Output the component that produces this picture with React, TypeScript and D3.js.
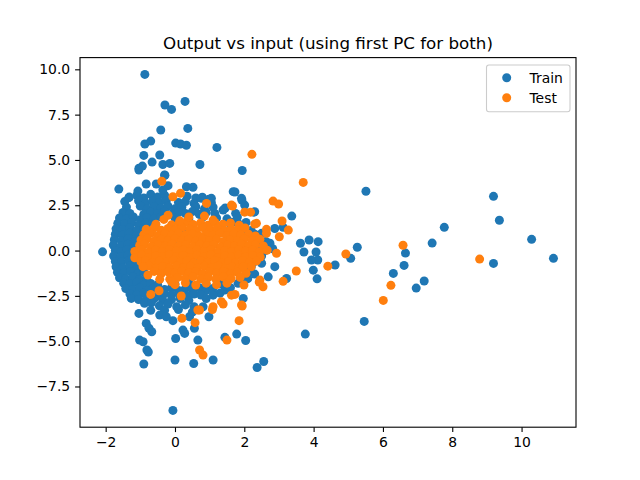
import { useEffect, useRef } from 'react';
import * as d3 from 'd3';

type Pt = [number, number];

// training points outside the dense core
const trainOutliers: Pt[] = [
  [-0.87, 9.72], [-0.29, 8.03], [-0.1, 7.79], [0.29, 8.23], [-0.41, 6.65], [0.37, 6.74],
  [-0.87, 5.88], [-0.7, 6.04], [0.02, 5.93], [0.16, 5.88], [0.33, 5.81], [1.21, 5.69],
  [-0.9, 5.25], [-0.44, 5.27], [-0.66, 4.88], [-1.04, 4.54], [-0.94, 4.66], [-0.35, 4.75],
  [-0.15, 4.81], [0.72, 4.75], [1.94, 4.42], [-0.29, 4.15], [-1.62, 3.39], [-1.07, 3.28],
  [-0.83, 3.67], [-0.2, 3.58], [0.52, 3.49], [1.73, 3.23], [1.92, 2.88], [-1.33, 2.92],
  [0.79, 2.94], [0.98, 2.83], [-1.04, 4.44], [-0.3, 4.17], [-0.54, 3.67], [-0.35, 3.34],
  [0.33, 3.52], [0.76, 2.88], [1.05, 2.88], [1.68, 3.25], [2.01, 2.51], [2.3, 2.14],
  [1.39, 2.24], [1.58, 1.5], [2.06, 1.04], [2.5, 0.95], [1.93, 2.79], [2.27, 2.12],
  [-2.09, -0.07],
  [-1.04, -3.47], [-0.83, -4.02], [-0.75, -4.29], [-0.67, -4.48], [-1.02, -4.94], [-0.92, -5.03],
  [-0.81, -5.49], [-0.77, -5.6], [-0.9, -6.26], [0.0, -6.04], [0.54, -6.23], [1.1, -6.04],
  [0.02, -4.85], [0.66, -4.94], [1.44, -4.79], [1.78, -4.61], [2.04, -4.96], [2.37, -6.45],
  [2.56, -6.12], [-0.06, -8.82], [0.28, -4.57], [0.23, -4.39], [0.56, -4.29], [-0.44, -3.56],
  [-0.25, -3.65], [-0.06, -3.87], [0.98, -3.65], [0.42, -3.65], [1.97, -2.64], [1.1, -2.46],
  [3.37, 1.9], [1.66, 1.56], [2.88, 1.22], [3.12, 1.28], [3.62, 0.4], [3.87, 0.58],
  [4.13, 0.49], [4.07, -0.08], [3.72, -0.08], [5.26, 0.18], [5.07, -0.43], [7.42, 0.41],
  [4.12, -0.52], [3.94, -0.52], [4.62, -0.8], [3.99, -1.08], [4.1, -1.56], [3.22, -1.54],
  [6.61, -0.82], [6.3, -1.26], [6.96, -2.07], [7.19, -1.68], [5.46, -3.91], [3.76, -4.61],
  [2.69, -1.45], [5.51, 3.27], [9.19, 2.99], [9.36, 1.67], [7.77, 1.28], [10.29, 0.62],
  [9.19, -0.71], [10.92, -0.43], [6.65, -0.14], [2.74, 0.4], [2.88, -0.89], [2.82, 0.1],
];

// training points in the dense blob, row by row
const trainCore: Pt[] = [
  [-1.32, 2.95], [-1.1, 3.05], [-0.9, 2.9], [-0.7, 3.1], [-0.5, 2.95], [-0.3, 3.05], [0.35, 3.0], [0.6, 2.9],
  [-1.45, 2.7], [-1.05, 2.75], [-0.85, 2.6], [-0.65, 2.72], [-0.45, 2.65], [-0.25, 2.75],
  [0.1, 2.65], [0.3, 2.7], [0.55, 2.6], [1.05, 2.65],
  [-1.4, 2.4], [-1.0, 2.45], [-0.8, 2.3], [-0.6, 2.42], [-0.4, 2.35], [-0.2, 2.45],
  [0.0, 2.3], [0.2, 2.4], [0.6, 2.42], [0.85, 2.3], [1.1, 2.4], [1.45, 2.35],
  [-1.5, 2.1], [-1.3, 2.05], [-0.9, 2.0], [-0.7, 2.12], [-0.5, 2.05], [-0.3, 2.15],
  [-0.1, 2.0], [0.1, 2.1], [0.3, 2.05], [0.5, 2.15], [0.7, 2.0], [0.9, 2.1], [1.15, 2.05],
  [1.75, 2.05],
  [-1.6, 1.8], [-1.4, 1.75], [-1.2, 1.85], [-1.0, 1.7], [-0.8, 1.82], [-0.6, 1.75], [-0.4, 1.85],
  [0.0, 1.8], [0.4, 1.75], [0.8, 1.85], [1.2, 1.8], [1.5, 1.75], [1.8, 1.85],
  [-1.65, 1.5], [-1.45, 1.45], [-1.25, 1.55], [-1.05, 1.4], [-0.85, 1.52], [-0.65, 1.45],
  [1.85, 1.45], [2.05, 1.55],
  [-1.7, 1.2], [-1.5, 1.15], [-1.3, 1.25], [-1.1, 1.1], [-0.9, 1.22], [2.0, 1.2], [2.2, 1.1],
  [-1.72, 0.9], [-1.52, 0.85], [-1.32, 0.95], [-1.12, 0.8], [-0.95, 0.92], [2.3, 0.9],
  [-1.75, 0.6], [-1.55, 0.55], [-1.35, 0.65], [-1.15, 0.5], [-1.0, 0.62], [2.4, 0.6], [2.62, 0.5],
  [-1.78, 0.3], [-1.56, 0.25], [-1.36, 0.35], [-1.2, 0.2], [2.55, 0.3],
  [-1.72, 0.0], [-1.55, -0.05], [-1.38, 0.05], [-1.22, -0.1], [2.6, 0.0], [2.45, 0.21],
  [-1.77, -0.3], [-1.56, -0.35], [-1.36, -0.25], [-1.2, -0.4], [2.5, -0.3], [2.4, -0.5],
  [-1.72, -0.6], [-1.54, -0.65], [-1.34, -0.55], [-1.15, -0.7], [2.3, -0.6], [2.5, -0.7],
  [-1.7, -0.9], [-1.5, -0.95], [-1.3, -0.85], [-1.1, -1.0], [-0.95, -0.88], [2.2, -0.9], [2.06, -0.89],
  [-1.66, -1.2], [-1.48, -1.25], [-1.28, -1.15], [-1.08, -1.3], [-0.9, -1.18], [2.1, -1.2], [2.3, -1.3],
  [-1.6, -1.5], [-1.42, -1.55], [-1.22, -1.45], [-1.02, -1.6], [-0.82, -1.52], [1.9, -1.5], [2.1, -1.55],
  [-1.48, -1.8], [-1.3, -1.85], [-1.1, -1.75], [-0.9, -1.9], [-0.7, -1.82], [-0.5, -1.88], [0.0, -1.85],
  [0.4, -1.8], [0.9, -1.9], [1.3, -1.85], [1.82, -1.81],
  [-1.42, -2.1], [-1.22, -2.15], [-1.02, -2.05], [-0.82, -2.2], [-0.62, -2.08], [-0.3, -2.15],
  [-0.1, -2.05], [0.1, -2.2], [0.3, -2.1], [0.5, -2.15], [0.7, -2.05], [0.9, -2.2], [1.1, -2.1],
  [1.44, -2.18], [1.6, -2.05],
  [-1.3, -2.4], [-1.1, -2.45], [-0.9, -2.35], [-0.5, -2.5], [-0.3, -2.38], [-0.1, -2.45], [0.1, -2.35],
  [0.35, -2.5], [0.55, -2.4], [0.75, -2.45], [1.3, -2.35],
  [-1.26, -2.64], [-1.05, -2.7], [-0.85, -2.75], [-0.6, -2.65], [-0.35, -2.75], [-0.1, -2.7],
  [0.15, -2.65], [0.4, -2.75], [0.9, -2.65],
  [-0.88, -2.91], [-0.68, -2.88], [-0.45, -3.05], [-0.2, -2.95], [0.05, -3.1], [0.3, -3.0],
  [0.55, -3.1], [0.81, -3.1],
  [-0.7, -3.3], [-0.3, -3.3], [0.1, -3.25], [0.5, -3.4],
  [0.0, 0.5], [0.5, -0.5], [1.0, 0.3], [1.5, -0.2], [-0.5, 0.0], [0.3, 1.0], [1.2, -1.0], [1.7, 0.6],
];

// test points outside the dense core
const testOutliers: Pt[] = [
  [2.22, 5.31], [-0.38, 3.82], [0.16, 3.16], [-0.06, 2.97], [3.7, 3.76], [2.83, 2.73],
  [2.99, 2.57], [1.66, 2.46], [2.01, 2.12], [2.18, 2.12], [3.09, 1.63], [2.3, 1.46],
  [2.64, 1.17], [3.27, 1.13], [3.01, 0.76], [4.93, -0.19], [6.58, 0.29], [4.41, -0.86],
  [3.5, -1.13], [3.12, -1.7], [6.23, -1.92], [6.01, -2.75], [8.79, -0.47], [2.43, -1.74],
  [2.54, -2.0], [1.99, -1.9], [1.73, -2.42], [0.2, -3.74], [0.58, -3.98], [0.66, -3.28],
  [1.08, -3.25], [1.1, -3.1], [1.39, -2.95], [1.94, -3.06], [1.85, -3.87], [0.71, -5.49],
  [0.81, -5.77], [1.5, -4.94], [-0.32, 1.72], [0.14, 1.64], [0.91, 2.6], [1.63, 2.51],
  [1.1, 1.68], [-0.46, -2.22], [-0.7, -2.42], [0.18, -2.51], [-0.1, -1.72], [1.63, -2.46],
  [1.34, -2.82], [1.92, -3.0], [0.71, -3.28], [2.35, 1.5], [2.64, 0.95], [2.93, -0.15],
  [2.45, -1.63], [1.97, -0.89], [0.4, 1.85], [0.85, 1.9], [-0.2, 1.95], [-0.83, 1.17],
  [-0.92, -0.89], [-0.78, -1.35], [-0.44, -1.59],
];

// test points in the dense core, row by row
const testCore: Pt[] = [
  [-0.55, 1.45], [-0.1, 1.42], [0.12, 1.5], [0.33, 1.58], [0.52, 1.44], [0.74, 1.52],
  [0.95, 1.4], [1.15, 1.55], [1.38, 1.45], [1.6, 1.52], [1.85, 1.4],
  [-0.6, 1.25], [-0.4, 1.12], [-0.2, 1.22], [0.0, 1.15], [0.2, 1.28], [0.42, 1.18],
  [0.62, 1.1], [0.82, 1.25], [1.02, 1.15], [1.22, 1.22], [1.42, 1.1], [1.62, 1.2], [1.82, 1.15], [2.02, 1.25],
  [-0.9, 0.88], [-0.7, 0.95], [-0.5, 0.82], [-0.3, 0.92], [-0.1, 0.85], [0.1, 0.95], [0.3, 0.86],
  [0.5, 0.92], [0.7, 0.8], [0.9, 0.9], [1.1, 0.85], [1.3, 0.95], [1.5, 0.82], [1.7, 0.92],
  [1.9, 0.86], [2.12, 0.9], [2.32, 0.8],
  [-0.98, 0.58], [-0.8, 0.65], [-0.6, 0.52], [-0.4, 0.62], [-0.2, 0.55], [0.0, 0.66], [0.2, 0.56],
  [0.4, 0.62], [0.6, 0.52], [0.8, 0.64], [1.0, 0.55], [1.2, 0.62], [1.4, 0.5], [1.6, 0.6],
  [1.8, 0.54], [2.0, 0.65], [2.22, 0.55], [2.45, 0.62],
  [-1.02, 0.28], [-0.88, 0.35], [-0.68, 0.22], [-0.48, 0.32], [-0.28, 0.25], [-0.08, 0.36], [0.12, 0.26],
  [0.32, 0.32], [0.52, 0.22], [0.72, 0.34], [0.92, 0.25], [1.12, 0.32], [1.32, 0.2], [1.52, 0.3],
  [1.72, 0.24], [1.92, 0.35], [2.12, 0.26], [2.32, 0.32], [2.55, 0.25],
  [-1.16, -0.05], [-0.96, 0.05], [-0.76, -0.08], [-0.56, 0.02], [-0.36, -0.05], [-0.16, 0.06], [0.04, -0.04],
  [0.24, 0.03], [0.44, -0.08], [0.64, 0.04], [0.84, -0.05], [1.04, 0.05], [1.24, -0.1], [1.44, 0.0],
  [1.64, -0.06], [1.84, 0.05], [2.04, -0.04], [2.24, 0.02], [2.44, -0.08], [2.66, 0.02],
  [-1.16, -0.4], [-0.96, -0.25], [-0.76, -0.38], [-0.56, -0.28], [-0.36, -0.35], [-0.16, -0.24], [0.04, -0.34],
  [0.24, -0.27], [0.44, -0.38], [0.64, -0.26], [0.84, -0.35], [1.04, -0.25], [1.24, -0.4], [1.44, -0.3],
  [1.64, -0.36], [1.84, -0.25], [2.04, -0.34], [2.24, -0.28], [2.46, -0.36],
  [-0.98, -0.62], [-0.85, -0.55], [-0.65, -0.68], [-0.45, -0.58], [-0.25, -0.65], [-0.05, -0.54], [0.15, -0.64],
  [0.35, -0.57], [0.55, -0.68], [0.75, -0.56], [0.95, -0.65], [1.15, -0.55], [1.35, -0.7], [1.55, -0.6],
  [1.75, -0.66], [1.95, -0.55], [2.15, -0.64], [2.35, -0.58],
  [-0.75, -0.85], [-0.55, -0.98], [-0.35, -0.88], [-0.15, -0.95], [0.05, -0.84], [0.25, -0.94],
  [0.45, -0.87], [0.65, -0.98], [0.85, -0.86], [1.05, -0.95], [1.25, -0.85], [1.45, -1.0], [1.65, -0.9],
  [1.85, -0.96], [2.2, -0.9],
  [-0.6, -1.15], [-0.4, -1.28], [-0.2, -1.18], [0.0, -1.25], [0.2, -1.14], [0.4, -1.24],
  [0.6, -1.17], [0.8, -1.28], [1.0, -1.16], [1.2, -1.25], [1.4, -1.15], [1.6, -1.3], [1.8, -1.2], [2.05, -1.25],
  [-0.15, -1.58], [0.08, -1.48], [0.3, -1.55], [0.52, -1.44], [0.74, -1.56],
  [0.96, -1.47], [1.18, -1.58], [1.4, -1.46], [1.62, -1.55], [1.88, -1.48],
  [0.0, -1.88], [0.3, -1.78], [0.6, -1.9], [0.9, -1.8], [1.2, -1.88], [1.5, -1.8],
];

const xTicks = [-2, 0, 2, 4, 6, 8, 10];
const yTicks = [-7.5, -5.0, -2.5, 0.0, 2.5, 5.0, 7.5, 10.0];
const seriesNames = ['Train', 'Test'];
const seriesColors = ['#1f77b4', '#ff7f0e'];

export default function App() {
  const svgRef = useRef<SVGSVGElement>(null);

  useEffect(() => {
    if (!svgRef.current) return;
    const svg = d3.select(svgRef.current);
    svg.selectAll('*').remove();

    const width = 640, height = 480;
    const margin = { top: 57.6, right: 64, bottom: 52.8, left: 80 };
    const font = '"DejaVu Sans", sans-serif';

    const train = [...trainCore, ...trainOutliers];
    const test = [...testCore, ...testOutliers];
    const all = [...train, ...test];

    // matplotlib-style 5% margins
    const [x0, x1] = d3.extent(all, d => d[0]) as [number, number];
    const [y0, y1] = d3.extent(all, d => d[1]) as [number, number];
    const px = (x1 - x0) * 0.05, py = (y1 - y0) * 0.05;

    const x = d3.scaleLinear().domain([x0 - px, x1 + px]).range([margin.left, width - margin.right]);
    const y = d3.scaleLinear().domain([y0 - py, y1 + py]).range([height - margin.bottom, margin.top]);

    svg.append('rect').attr('width', width).attr('height', height).attr('fill', '#fff');

    const clip = svg.append('clipPath').attr('id', 'plot-clip');
    clip.append('rect').attr('x', margin.left).attr('y', margin.top)
      .attr('width', width - margin.left - margin.right)
      .attr('height', height - margin.top - margin.bottom);

    const plot = svg.append('g').attr('clip-path', 'url(#plot-clip)');
    [train, test].forEach((pts, i) => {
      plot.append('g').selectAll('circle').data(pts).join('circle')
        .attr('cx', d => x(d[0]))
        .attr('cy', d => y(d[1]))
        .attr('r', 4.5)
        .attr('fill', seriesColors[i]);
    });

    const fmtMinus = (s: string) => s.replace('-', '\u2212');

    const xAxis = svg.append('g').attr('transform', 'translate(0,' + (height - margin.bottom) + ')')
      .call(d3.axisBottom(x).tickValues(xTicks).tickSize(4.9).tickPadding(4.9)
        .tickFormat(d => fmtMinus(String(d))));
    const yAxis = svg.append('g').attr('transform', 'translate(' + margin.left + ',0)')
      .call(d3.axisLeft(y).tickValues(yTicks).tickSize(4.9).tickPadding(4.9)
        .tickFormat(d => fmtMinus(d3.format('.1f')(d as number))));

    [xAxis, yAxis].forEach(a => {
      a.select('.domain').remove();
      a.selectAll('line').attr('stroke', '#000').attr('stroke-width', 1.1);
      a.selectAll('text').attr('font-family', font).attr('font-size', '13.9px').attr('fill', '#000');
    });

    // spines
    svg.append('rect')
      .attr('x', margin.left).attr('y', margin.top)
      .attr('width', width - margin.left - margin.right)
      .attr('height', height - margin.top - margin.bottom)
      .attr('fill', 'none').attr('stroke', '#000').attr('stroke-width', 1.1);

    svg.append('text')
      .attr('x', (margin.left + width - margin.right) / 2)
      .attr('y', 49.3)
      .attr('text-anchor', 'middle')
      .attr('font-family', font)
      .attr('font-size', '16.7px')
      .attr('fill', '#000')
      .text('Output vs input (using first PC for both)');

    // legend
    const lg = svg.append('g');
    lg.append('rect')
      .attr('x', 486.5).attr('y', 65).attr('width', 83.5).attr('height', 46.7)
      .attr('rx', 2.5).attr('fill', '#fff').attr('fill-opacity', 0.8)
      .attr('stroke', '#cccccc').attr('stroke-width', 1.1);
    seriesNames.forEach((name, i) => {
      const cy = 77.7 + i * 20;
      lg.append('circle').attr('cx', 506.7).attr('cy', cy).attr('r', 4.5).attr('fill', seriesColors[i]);
      lg.append('text').attr('x', 529.5).attr('y', cy + 5)
        .attr('font-family', font).attr('font-size', '13.9px').attr('fill', '#000')
        .text(name);
    });
  }, []);

  return (
    <svg ref={svgRef} width={640} height={480}
      style={{ position: 'absolute', left: 0, top: 0, display: 'block' }} />
  );
}
